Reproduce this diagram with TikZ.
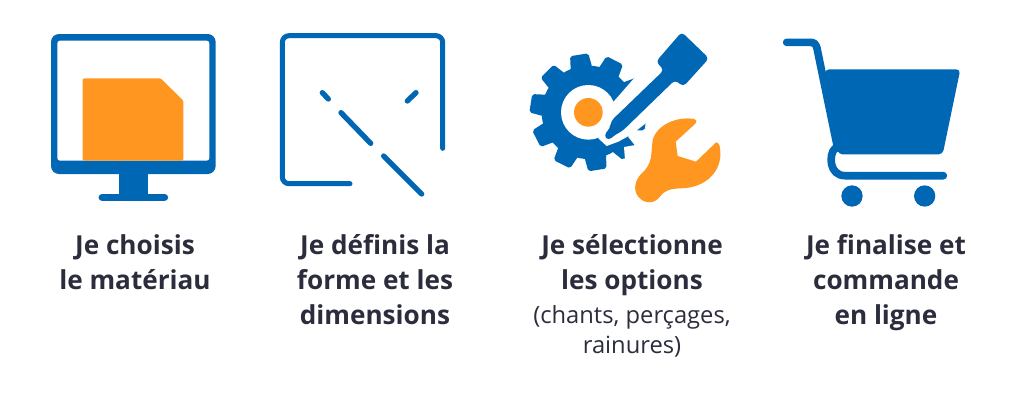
\documentclass[tikz,border=0pt]{standalone}
\usepackage{fontspec}
\usepackage{tikz}
\usetikzlibrary{positioning}
\setmainfont{Open Sans}
\definecolor{iconblue}{HTML}{0067B5}
\definecolor{iconorange}{HTML}{FF9620}
\definecolor{textdark}{HTML}{2B2D3C}

\begin{document}
\begin{tikzpicture}[x=0.75pt,y=-0.75pt]
        \tikzstyle{step label}=[text=textdark,align=center,font=\fontsize{19.6}{26.25}\selectfont\bfseries,inner sep=0pt,anchor=north]
        \tikzstyle{sub label}=[text=textdark,align=center,font=\fontsize{17.8}{22.5}\selectfont,inner sep=0pt,anchor=north]
        \tikzstyle{zoomed}=[x=0.25pt,y=-0.25pt]
        \tikzstyle{blue line}=[draw=iconblue,line cap=round]
        \useasboundingbox (0,0) rectangle (1024,400);

        % monitor
        \begin{scope}[shift={(30,20)},zoomed]
            \fill[iconblue,rounded corners=6pt] (63,42) rectangle (557,462);
            \fill[white,rounded corners=2pt] (82,62) rectangle (538,422);
            \fill[iconorange,rounded corners=1pt] (158,422) -- (158,175) -- (392,175) -- (460,242) -- (460,422) -- cycle;
            \fill[iconblue] (268,450) rectangle (354,530);
            \draw[blue line,line width=5.75pt] (217,532) -- (403,532);
        \end{scope}

        % frame and dashed diagonal
        \begin{scope}[shift={(30,20)},zoomed]
            \draw[blue line,line width=3.75pt,rounded corners=5pt] (1238,385) -- (1238,47) -- (757,47) -- (757,491) -- (960,491);
            \draw[blue line,line width=4pt] (877,218) -- (895,237);
            \draw[blue line,line width=4pt] (1158,218) -- (1132,243);
            \draw[blue line,line width=4pt] (933,278) -- (1022,370);
            \draw[blue line,line width=4pt] (1061,408) -- (1175,522);
        \end{scope}

        % gear, pen and wrench
        \begin{scope}[shift={(510,20)},zoomed]
            \begin{scope}[shift={(235,277)}]
                \fill[iconblue] (0,0) circle (140);
                \foreach \a in {81,117,...,405}
                    \fill[iconblue,rounded corners=1.5pt] (\a-14:135) -- (\a-9:177) -- (\a+9:177) -- (\a+14:135) -- cycle;
                \fill[white] (0,0) circle (82);
            \end{scope}
            \fill[white] (385,160) -- (315,240) -- (290,265) -- (265,355) -- (290,378) -- (325,365) -- (365,343) -- (420,300) -- (520,200) -- (450,90) -- cycle;
            \fill[white] (342,381) -- (388,373) -- (420,370) -- (420,420) -- (345,420) -- cycle;
            \fill[iconorange] (235,277) circle (43);
            \fill[iconblue,rounded corners=3pt] (515,36) -- (597,115) -- (520,200) -- (495,180) -- (335,335) -- (318,342) -- (295,362) -- (281,346) -- (300,325) -- (303,303) -- (462,150) -- (438,125) -- cycle;
            \fill[iconorange] (553,297) .. controls (500,288) and (440,315) .. (428,360) .. controls (422,400) and (430,430) .. (395,460) .. controls (375,480) and (368,510) .. (385,530) .. controls (405,555) and (435,550) .. (450,530) .. controls (465,510) and (480,507) .. (510,505) .. controls (590,505) and (640,450) .. (630,385) .. controls (628,365) and (618,362) .. (610,375) -- (558,425) -- (503,408) -- (497,365) -- (555,312) .. controls (562,305) and (560,298) .. (553,297) -- cycle;
        \end{scope}

        % cart
        \begin{scope}[shift={(770,20)},zoomed]
            \draw[blue line,line width=5.75pt] (50,67) -- (120,67) .. controls (132,67) and (138,72) .. (141,85) -- (203,385);
            \fill[iconblue,rounded corners=3pt] (165,148) -- (571,148) -- (518,403) -- (205,403) -- cycle;
            \draw[blue line,line width=5.75pt] (195,385) .. controls (175,405) and (178,467) .. (225,467) -- (520,467);
            \fill[iconblue] (246,528) circle (32);
            \fill[iconblue] (464,528) circle (32);
        \end{scope}

        % captions
        \node[step label] (choisis) at (135,234) {Je choisis\\le matériau};
        \node[step label] (definis) at (375,234) {Je définis la\\forme et les\\dimensions};
        \node[step label] (options) at (632,234) {Je sélectionne\\les options};
        \node[sub label] (details) [below=7pt of options] {(chants, perçages,\\rainures)};
        \node[step label] (commande) at (886,234) {Je finalise et\\commande\\en ligne};
    \end{tikzpicture}
\end{document}
